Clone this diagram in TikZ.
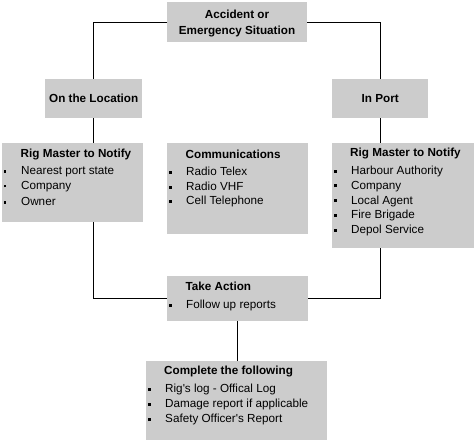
\documentclass[tikz,border=0pt]{standalone}
\usepackage{fontspec}
\setmainfont{Liberation Sans}
\usetikzlibrary{positioning}
\definecolor{boxgray}{HTML}{CCCCCC}
\newcommand{\txtsize}{\fontsize{11.7}{14}\selectfont}
\tikzset{
	box/.style={fill=boxgray, inner sep=0pt, anchor=north west},
	title/.style={font=\txtsize\bfseries, inner sep=0pt},
	head/.style={font=\txtsize\bfseries, anchor=west, inner sep=0pt},
	item/.style={font=\txtsize, anchor=west, inner sep=0pt},
	link/.style={draw, line width=0.8pt}
}
\newcommand{\sqbul}{\makebox[17.5pt][l]{\rule[1.8pt]{2.8pt}{2.8pt}}}

\begin{document}
\begin{tikzpicture}[x=1pt,y=-1pt]
	\useasboundingbox (0,0) rectangle (475,442);
	% boxes
	\node[box, minimum width=140pt, minimum height=40pt] (top) at (167,2) {};
	\node[box, minimum width=97pt, minimum height=39pt] (onloc) at (45,79) {};
	\node[box, minimum width=96pt, minimum height=39pt] (inport) at (332,79) {};
	\node[box, minimum width=141pt, minimum height=79pt] (lrig) at (2,143) {};
	\node[box, minimum width=141pt, minimum height=91pt] (comm) at (167,143) {};
	\node[box, minimum width=142pt, minimum height=105pt] (rrig) at (332,143) {};
	\node[box, minimum width=141pt, minimum height=45pt] (act) at (167,276) {};
	\node[box, minimum width=181pt, minimum height=79pt] (done) at (146,361) {};
	% connectors
	\draw[link] (top.west) -| (onloc.north);
	\draw[link] (top.east) -| (inport.north);
	\draw[link] (onloc.south) -- (onloc.south |- lrig.north);
	\draw[link] (inport.south) -- (inport.south |- rrig.north);
	\draw[link] (onloc.south |- lrig.south) |- (act.west);
	\draw[link] (inport.south |- rrig.south) |- (act.east);
	\draw[link] (act.south) -- (act.south |- done.north);
	% texts
	\node[title] (top-1) at (237,14.7) {Accident or};
	\node[title] (top-2) at (237,31.7) {Emergency Situation};
	\node[title] (onloc-t) at (onloc) {On the Location};
	\node[title] (inport-t) at (inport) {In Port};
	\node[head] (lrig-h) at (20.5,154) {Rig Master to Notify};
	\foreach \t [count=\i] in {Nearest port state, Company, Owner}
		\node[item] (lrig-\i) at (3.5,{156.6+14.9*\i}) {\sqbul\t};
	\node[head] (comm-h) at (185.5,154) {Communications};
	\foreach \t [count=\i] in {Radio Telex, Radio VHF, Cell Telephone}
		\node[item] (comm-\i) at (168.5,{156.6+14.9*\i}) {\sqbul\t};
	\node[head] (rrig-h) at (350,153.5) {Rig Master to Notify};
	\foreach \t [count=\i] in {Harbour Authority, Company, Local Agent, Fire Brigade, Depol Service}
		\node[item] (rrig-\i) at (333.5,{156.6+14.8*\i}) {\sqbul\t};
	\node[head] (act-h) at (185.5,286.7) {Take Action};
	\node[item] (act-1) at (168.5,305.7) {\sqbul Follow up reports};
	\node[head] (done-h) at (164,371.7) {Complete the following};
	\foreach \t [count=\i] in {Rig\textquotesingle s log - Offical Log, Damage report if applicable, Safety Officer\textquotesingle s Report}
		\node[item] (done-\i) at (147.5,{374.2+15.2*\i}) {\sqbul\t};
\end{tikzpicture}
\end{document}
